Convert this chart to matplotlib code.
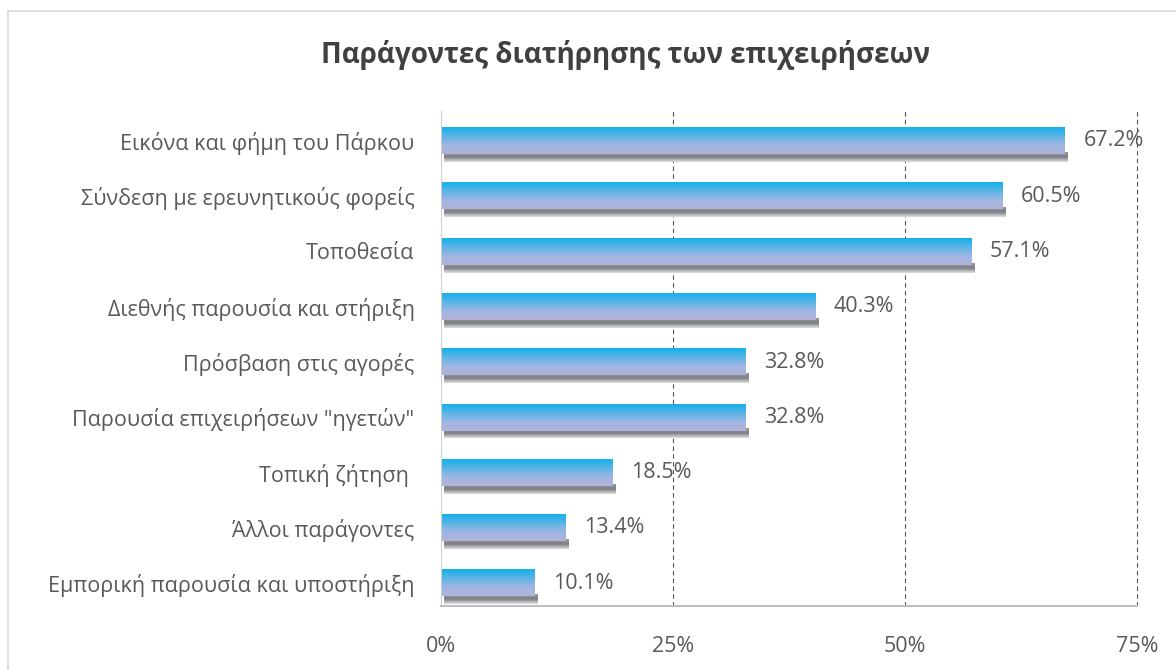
import numpy as np
import matplotlib.pyplot as plt
from matplotlib.colors import LinearSegmentedColormap
from matplotlib.patches import Rectangle

labels = ['Εικόνα και φήμη του Πάρκου', 'Σύνδεση με ερευνητικούς φορείς', 'Τοποθεσία',
          'Διεθνής παρουσία και στήριξη', 'Πρόσβαση στις αγορές',
          'Παρουσία επιχειρήσεων "ηγετών"', 'Τοπική ζήτηση ', 'Άλλοι παράγοντες',
          'Εμπορική παρουσία και υποστήριξη']
values = [67.2, 60.5, 57.1, 40.3, 32.8, 32.8, 18.5, 13.4, 10.1]
xticks = [0, 25, 50, 75]

plt.rcParams['font.family'] = ['Open Sans', 'DejaVu Sans']
text_color = '#595959'

fig = plt.figure(figsize=(11.76, 6.70), dpi=100)
fig.patches.append(Rectangle((0.007, -0.01), 1.0, 0.993, transform=fig.transFigure,
                             fill=False, edgecolor='#d9d9d9', linewidth=1.2))
ax = fig.add_axes([0.375, 0.095, 0.592, 0.74])

bar_cmap = LinearSegmentedColormap.from_list('bar', ['#15b0ea', '#5ab4e6', '#9fb6e2', '#b2b3da'])
shadow_cmap = LinearSegmentedColormap.from_list('sh', ['#9a9a9a', '#7c7e86', '#e0e0e0'])
grad = np.linspace(0, 1, 64).reshape(-1, 1)

h = 0.48
for i, v in enumerate(values):
    # shadow below the bar
    ax.imshow(grad, cmap=shadow_cmap, aspect='auto', interpolation='bilinear',
              extent=(0.3, v + 0.3, i + h / 2 + 0.14, i + h / 2 - 0.03), zorder=2)
    ax.imshow(grad, cmap=bar_cmap, aspect='auto', interpolation='bilinear',
              extent=(0.1, v, i + h / 2, i - h / 2), zorder=3)
    ax.text(v + 2.0, i, f'{v:.1f}%', va='center', ha='left', fontsize=15.5, color=text_color)

ax.set_xlim(0, 75)
ax.set_ylim(8.42, -0.55)
ax.set_yticks(range(len(labels)))
ax.set_yticklabels(labels, fontsize=15.5, color=text_color)
ax.set_xticks(xticks)
ax.set_xticklabels([f'{t}%' for t in xticks], fontsize=15.5, color=text_color)
ax.tick_params(length=0)
ax.tick_params(axis='x', pad=21)
ax.tick_params(axis='y', pad=19)
for t in xticks[1:]:
    ax.axvline(t, color='#555555', linestyle=(0, (4, 3)), linewidth=0.8, zorder=1, clip_on=False)
for s in ['top', 'right']:
    ax.spines[s].set_visible(False)
ax.spines['left'].set_color('#d0d0d0')
ax.spines['bottom'].set_color('#bfbfbf')
ax.spines['bottom'].set_linewidth(1.5)

fig.text(0.532, 0.918, 'Παράγοντες διατήρησης των επιχειρήσεων', ha='center', va='center',
         fontsize=20, fontweight='bold', color='#404040')

fig.savefig('out.png', dpi=100)
